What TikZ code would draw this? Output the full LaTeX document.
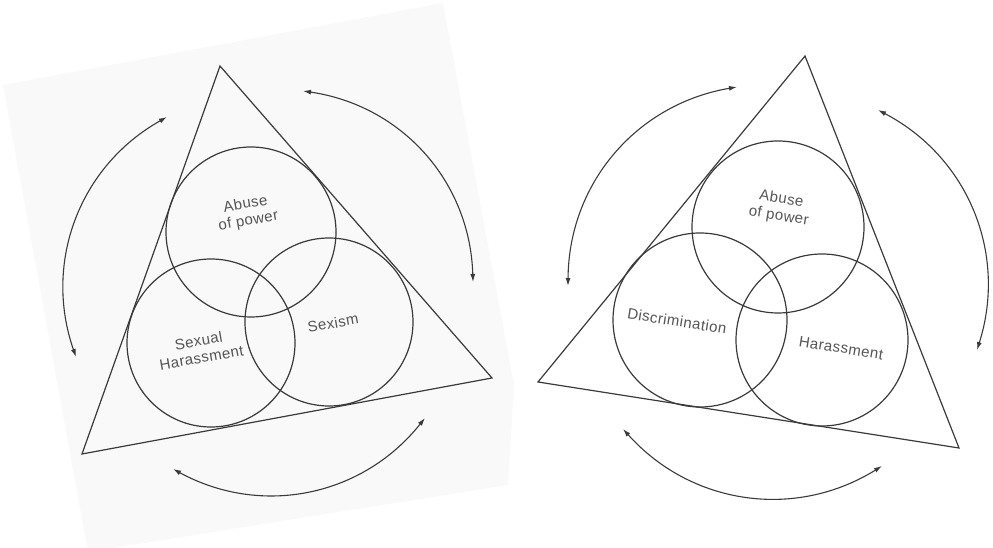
\documentclass[tikz,border=0pt]{standalone}
\usepackage{fontspec}
\newfontfamily\labfont[LetterSpace=3]{Liberation Sans}
\usetikzlibrary{arrows.meta}
\definecolor{linec}{HTML}{3A3A3A}
\definecolor{textc}{HTML}{555555}
\definecolor{pagec}{HTML}{F9F9F9}
\tikzset{
  shape line/.style={draw=linec, line width=1.2pt, line join=miter},
  ring/.style={draw=linec, line width=1.2pt},
  lab/.style={text=textc, font=\labfont\fontsize{15}{17}\selectfont, align=center, inner sep=0pt},
  cycle arrow/.style={draw=linec, line width=1.1pt, {Latex[length=8pt,width=5pt]}-{Latex[length=8pt,width=5pt]}}
}
\begin{document}
\begin{tikzpicture}[x=1pt,y=1pt]
\useasboundingbox (0,0) rectangle (993,548);
% faint page background of the left panel
\fill[pagec] (3,463) -- (443,545) -- (514,163) -- (508,63) -- (88,-4) -- cycle;

% ---------- left panel ----------
\coordinate (LT) at (220,482);
\coordinate (LL) at (82,94);
\coordinate (LR) at (492,170);
\draw[shape line] (LT) -- (LL) -- (LR) -- cycle;
\node[circle, ring, minimum size=170pt] (LAbuse) at (251,316) {};
\node[circle, ring, minimum size=168pt] (LSH) at (211,205) {};
\node[circle, ring, minimum size=168pt] (LSex) at (329,226) {};
\node[lab, rotate=10] (LAbuseT) at (247,335) {Abuse\\of power};
\node[lab, rotate=10] (LSHT) at (200,199) {Sexual\\Harassment};
\node[lab, rotate=10] (LSexT) at (333,225) {Sexism};

\coordinate (a1s) at (76,191);
\coordinate (a1e) at (167,431);
\coordinate (a2s) at (303,457);
\coordinate (a2e) at (473,266);
\coordinate (a3s) at (425,130);
\coordinate (a3e) at (173,79);
\draw[cycle arrow] (a1s) to[bend left=40] (a1e);
\draw[cycle arrow] (a2s) to[bend left=40] (a2e);
\draw[cycle arrow] (a3s) to[bend left=40] (a3e);

% ---------- right panel ----------
\coordinate (RT) at (805,492);
\coordinate (RL) at (538,166);
\coordinate (RR) at (959,100);
\draw[shape line] (RT) -- (RL) -- (RR) -- cycle;
\node[circle, ring, minimum size=172pt] (RAbuse) at (778,321) {};
\node[circle, ring, minimum size=174pt] (RDis) at (700,228) {};
\node[circle, ring, minimum size=172pt] (RHar) at (822,208) {};
\node[lab, rotate=-9] (RAbuseT) at (780,340) {Abuse\\of power};
\node[lab, rotate=-9] (RDisT) at (677,227) {Discrimination};
\node[lab, rotate=-9] (RHarT) at (841,200) {Harassment};

\coordinate (b1s) at (568,262);
\coordinate (b1e) at (737,461);
\coordinate (b2s) at (878,438);
\coordinate (b2e) at (977,198);
\coordinate (b3s) at (882,82);
\coordinate (b3e) at (623,119);
\draw[cycle arrow] (b1s) to[bend left=40] (b1e);
\draw[cycle arrow] (b2s) to[bend left=40] (b2e);
\draw[cycle arrow] (b3s) to[bend left=40] (b3e);
\end{tikzpicture}
\end{document}
